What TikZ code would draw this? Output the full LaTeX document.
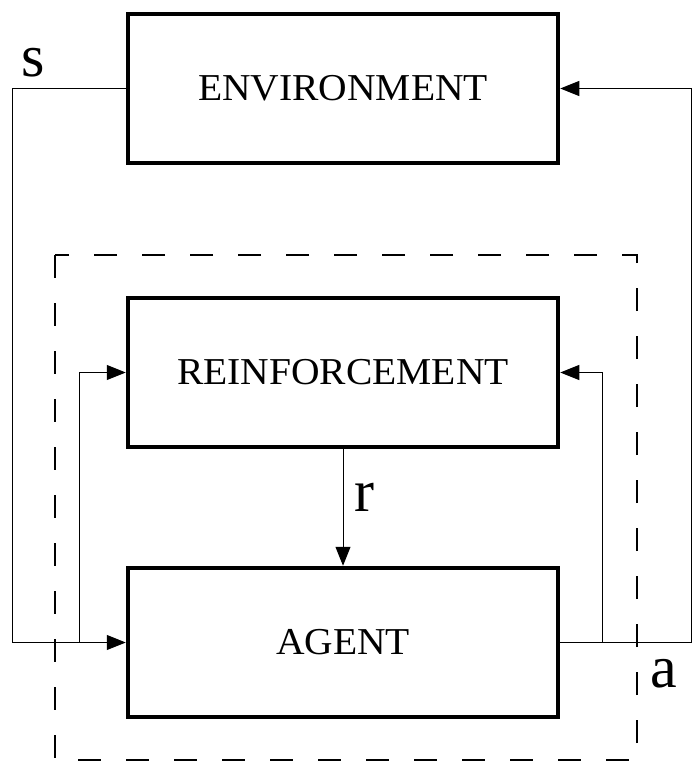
\documentclass[tikz,border=0pt]{standalone}
\usepackage{fontspec}
\setmainfont{Liberation Serif}[FakeStretch=1.04]
\newfontfamily\labfont{Liberation Serif}
\usetikzlibrary{arrows.meta}
\begin{document}
\begin{tikzpicture}[x=1pt,y=-1pt,
  block/.style={draw, line width=4.5pt, minimum width=430pt, minimum height=149pt,
    inner sep=0pt, font=\fontsize{38}{42}\selectfont},
  conn/.style={line width=1pt},
  arr/.style={conn, -{Triangle[length=19pt,width=15pt]}},
  lab/.style={inner sep=0pt, font=\labfont\fontsize{60}{62}\selectfont}]
\useasboundingbox (0,0) rectangle (692,762);
\node[block] (env) at (343,88.5) {ENVIRONMENT};
\node[block] (reinf) at (343,372.5) {REINFORCEMENT};
\node[block] (agent) at (343,642.5) {AGENT};
\draw[line width=2pt, dash pattern=on 23pt off 25pt] (55,255) rectangle (637,760);
\coordinate (sb) at (12,642.5);
\coordinate (lb) at (79,642.5);
\coordinate (rb) at (691,642.5);
\coordinate (rbr) at (602,642.5);
\draw[arr] (env.west) -| (sb) -- (agent.west);
\draw[arr] (lb) |- (reinf.west);
\draw[arr] (agent.east) -- (rb) |- (env.east);
\draw[arr] (rbr) |- (reinf.east);
\draw[arr] (reinf.south) -- (agent.north);
\node[lab] (s) at (33,63) {s};
\node[lab] (r) at (364,497) {r};
\node[lab] (a) at (664,674) {a};
\end{tikzpicture}
\end{document}
